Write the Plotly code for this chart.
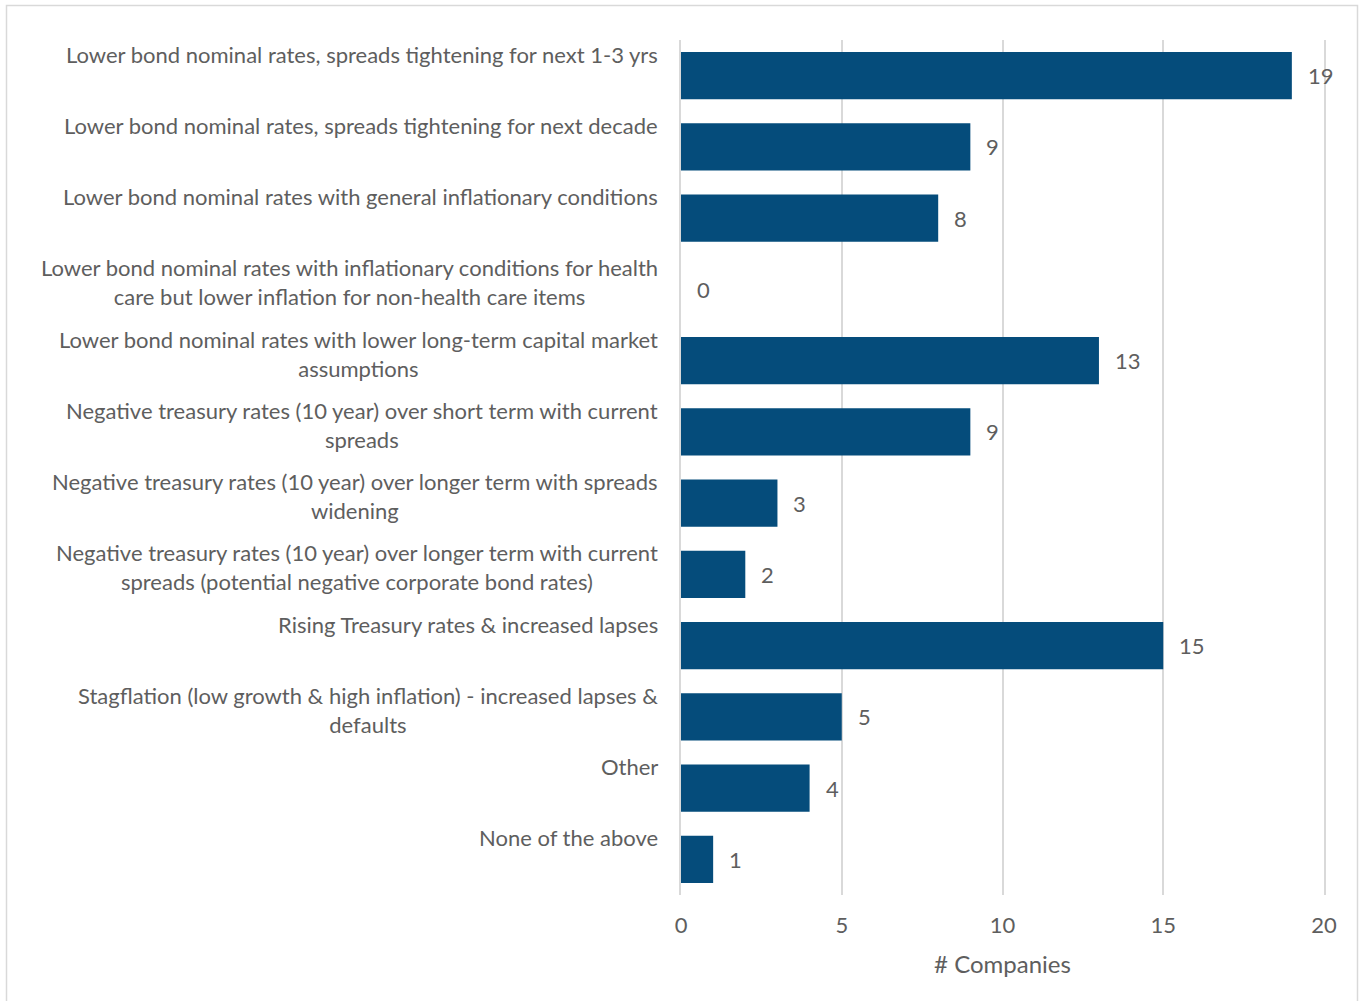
import plotly.graph_objects as go

# Survey responses: scenarios considered and number of companies choosing each
scenarios = [
    "Lower bond nominal rates, spreads tightening for next 1-3 yrs",
    "Lower bond nominal rates, spreads tightening for next decade",
    "Lower bond nominal rates with general inflationary conditions",
    "Lower bond nominal rates with inflationary conditions for health<br>care but lower inflation for non-health care items",
    "Lower bond nominal rates with lower long-term capital market<br>assumptions",
    "Negative treasury rates (10 year) over short term with current<br>spreads",
    "Negative treasury rates (10 year) over longer term with spreads<br>widening",
    "Negative treasury rates (10 year) over longer term with current<br>spreads (potential negative corporate bond rates)",
    "Rising Treasury rates & increased lapses",
    "Stagflation (low growth & high inflation) - increased lapses &<br>defaults",
    "Other",
    "None of the above",
]
companies = [19, 9, 8, 0, 13, 9, 3, 2, 15, 5, 4, 1]
x_ticks = [0, 5, 10, 15, 20]

W, H = 1364, 1001
L, R, T, B = 681, 40, 40, 106
TEXT = "#5E5E5E"
GRID = "#D9D9D9"
FONT = "Lato"

ids = list(range(len(scenarios)))

fig = go.Figure(
    go.Bar(
        x=companies,
        y=ids,
        orientation="h",
        marker=dict(color="#054C7B", line=dict(width=0)),
        hoverinfo="x",
    )
)

annotations = []
# category labels, top-anchored to the left of each bar
for i, s in enumerate(scenarios):
    annotations.append(dict(
        x=0, xref="paper", xanchor="right", xshift=-21,
        y=i, yref="y", yanchor="top", yshift=37,
        text=s, showarrow=False, align="center",
        font=dict(family=FONT, size=22, color=TEXT),
    ))
# value labels at the end of each bar
for i, v in enumerate(companies):
    annotations.append(dict(
        x=v, xref="x", xanchor="left", xshift=14,
        y=i, yref="y", yanchor="middle",
        text=str(v), showarrow=False,
        font=dict(family=FONT, size=22, color=TEXT),
    ))

# thin frame around the chart
pw, ph = W - L - R, H - T - B
fx0 = (6.5 - L) / pw
fx1 = (1357.5 - L) / pw
fy1 = (H - B - 5.5) / ph
fy0 = (H - B - 1010) / ph

fig.update_layout(
    width=W, height=H,
    margin=dict(l=L, r=R, t=T, b=B, pad=0),
    paper_bgcolor="white", plot_bgcolor="white",
    bargap=0.34,
    showlegend=False,
    font=dict(family=FONT, size=22, color=TEXT),
    annotations=annotations,
    shapes=[dict(
        type="rect", xref="paper", yref="paper",
        x0=fx0, x1=fx1, y0=fy0, y1=fy1,
        line=dict(color=GRID, width=1.5), layer="below",
    )],
    xaxis=dict(
        range=[0, 20],
        tickvals=x_ticks,
        ticktext=[str(t) for t in x_ticks],
        showgrid=True, gridcolor=GRID, gridwidth=1.5,
        zeroline=False, showline=False,
        ticks="outside", ticklen=11, tickcolor="rgba(0,0,0,0)",
        tickfont=dict(family=FONT, size=22, color=TEXT),
        title=dict(text="# Companies", standoff=18,
                   font=dict(family=FONT, size=24, color=TEXT)),
    ),
    yaxis=dict(
        range=[len(scenarios) - 0.5, -0.5],
        showticklabels=False, showgrid=False,
        zeroline=False, ticks="",
        showline=True, mirror=True, linecolor=GRID, linewidth=1.5,
    ),
)

fig.write_html("out.html")
